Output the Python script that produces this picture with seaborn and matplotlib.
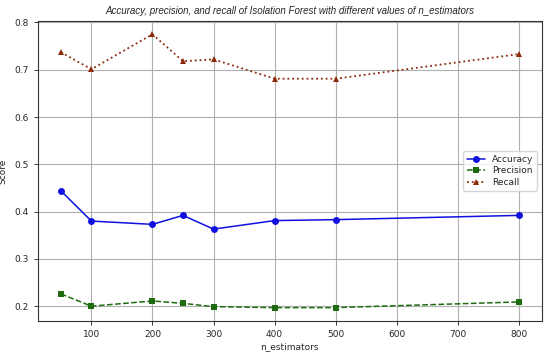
import numpy as np
import matplotlib
matplotlib.use("Agg")
import matplotlib.pyplot as plt
import seaborn as sns

# n_estimators tried and the scores for each
n_estimators = [50, 100, 200, 250, 300, 400, 500, 800]
accuracy = [0.444, 0.380, 0.373, 0.392, 0.363, 0.381, 0.383, 0.392]
precision = [0.226, 0.200, 0.211, 0.206, 0.199, 0.197, 0.197, 0.209]
recall = [0.737, 0.701, 0.775, 0.718, 0.722, 0.681, 0.681, 0.733]

sns.set_style("ticks", {
    "axes.grid": True,
    "grid.color": "#b0b0b0",
    "axes.edgecolor": "#333333",
})
plt.rcParams["font.family"] = ["DejaVu Sans"]

fig, ax = plt.subplots(figsize=(5.5, 3.55), dpi=100)

sns.lineplot(x=n_estimators, y=accuracy, marker="o", linestyle="-", color="#1010e0",
             markersize=5, markeredgewidth=0, linewidth=1.1, label="Accuracy", ax=ax)
sns.lineplot(x=n_estimators, y=precision, marker="s", linestyle="--", color="#1e6b10",
             markersize=4.5, markeredgewidth=0, linewidth=1.1, label="Precision", ax=ax)
sns.lineplot(x=n_estimators, y=recall, marker="^", linestyle=":", color="#8c2a0c",
             markersize=5, markeredgewidth=0, linewidth=1.3, label="Recall", ax=ax)

ax.grid(True, color="#b0b0b0", linewidth=0.8)
ax.tick_params(labelsize=6.5, length=3, width=0.7, color="#333333")
for s in ax.spines.values():
    s.set_linewidth(0.8)

ax.set_xlabel("n_estimators", fontsize=6.5, labelpad=2)
ax.set_ylabel("Score", fontsize=6.5, labelpad=5)
ax.set_title("Accuracy, precision, and recall of Isolation Forest with different values of n_estimators",
             fontsize=7, style="italic", family="Liberation Sans", pad=5)

ax.legend(loc="center right", fontsize=6.5, frameon=True, framealpha=0.8,
          handlelength=2, borderpad=0.4, labelspacing=0.3)

fig.subplots_adjust(left=0.069, right=0.985, top=0.942, bottom=0.095)
fig.savefig("out.png", dpi=100)
